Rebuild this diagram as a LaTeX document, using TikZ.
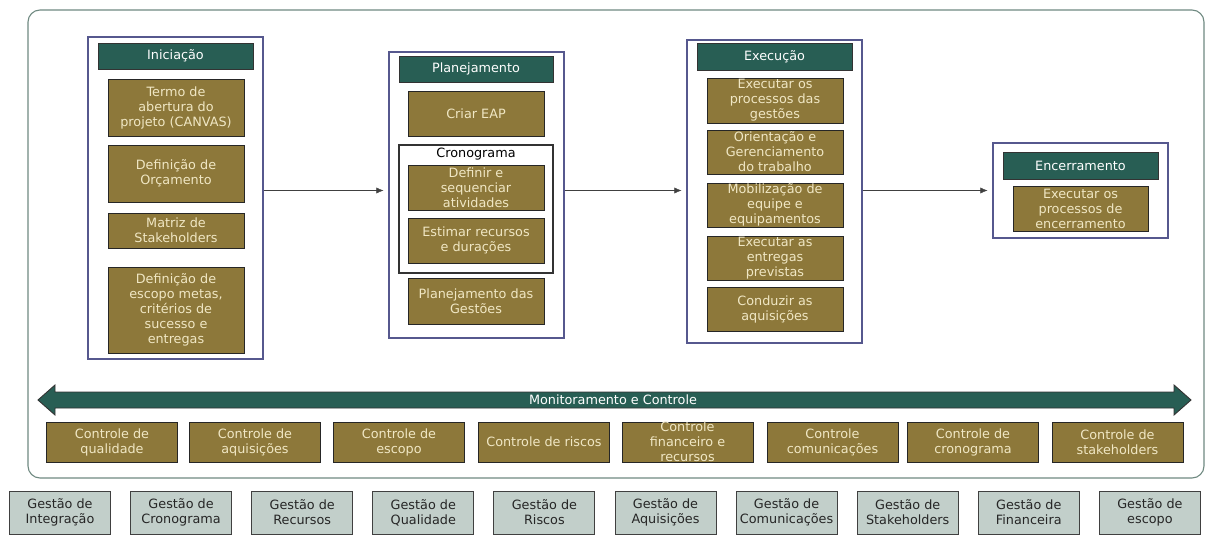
\documentclass[tikz,border=0pt]{standalone}
\usepackage{fontspec}
\setmainfont{DejaVu Sans}
\usetikzlibrary{positioning}
\usetikzlibrary{arrows.meta}

\definecolor{oliva}{RGB}{141,120,58}
\definecolor{creme}{RGB}{240,231,196}
\definecolor{petroleo}{RGB}{40,94,84}
\definecolor{azulmoldura}{RGB}{86,88,142}
\definecolor{cinzaverde}{RGB}{194,207,202}
\definecolor{contorno}{RGB}{112,138,130}

\tikzset{
    texto/.style={font=\fontsize{12.8}{15}\selectfont, align=center, inner sep=0pt},
    fase/.style={draw=azulmoldura, line width=1.1pt, fill=white},
    cabecalho/.style={texto, draw=black!80, fill=petroleo, text=white, minimum width=155pt, minimum height=26pt},
    tarefa/.style={texto, draw=black!85, line width=0.9pt, fill=oliva, text=creme, minimum width=136pt, minimum height=44pt},
    controle/.style={tarefa, minimum width=131pt, minimum height=40pt},
    gestao/.style={texto, draw=black!75, line width=0.9pt, fill=cinzaverde, text=black!85, minimum width=101pt, minimum height=43pt},
    seta/.style={-{Latex[length=7pt, width=6pt]}, black!75, shorten >=5pt},
}

\begin{document}
\begin{tikzpicture}[x=1pt, y=-1pt]
    \useasboundingbox (0,0) rectangle (1219,540);
    \fill[white] (0,0) rectangle (1219,540);
    \draw[contorno, line width=1.1pt, rounded corners=12pt] (28,10) rectangle (1204,478);

    % Iniciacao
    \node[fase, minimum width=175pt, minimum height=322pt] (ini) at (175.5,198) {};
    \node[cabecalho] (iniCab) at (175.5,56) {Iniciação};
    \node[tarefa, minimum height=57pt] (termo) at (176,107.5) {Termo de\\abertura do\\projeto (CANVAS)};
    \node[tarefa, minimum height=57pt] (orcamento) at (176,173.5) {Definição de\\Orçamento};
    \node[tarefa, minimum height=35pt] (matriz) at (176,230.5) {Matriz de\\Stakeholders};
    \node[tarefa, minimum height=86pt] (escopo) at (176,310) {Definição de\\escopo metas,\\critérios de\\sucesso e\\entregas};

    % Planejamento
    \node[fase, minimum width=175pt, minimum height=286pt] (pla) at (476.5,195) {};
    \node[cabecalho, minimum width=154pt] (plaCab) at (476,69) {Planejamento};
    \node[tarefa, minimum height=45pt] (eap) at (476,113.5) {Criar EAP};
    \node[draw=black!80, line width=1.1pt, minimum width=154pt, minimum height=128pt] (crono) at (476,209) {};
    \node[texto, anchor=north] (cronoLbl) at (476,148) {Cronograma};
    \node[tarefa, minimum height=45pt] (definir) at (476,187.5) {Definir e\\sequenciar\\atividades};
    \node[tarefa, minimum height=45pt] (estimar) at (476,240.5) {Estimar recursos\\e durações};
    \node[tarefa, minimum height=46pt] (plaGest) at (476,301) {Planejamento das\\Gestões};

    % Execucao
    \node[fase, minimum width=175pt, minimum height=303pt] (exe) at (774.5,191.5) {};
    \node[cabecalho, minimum height=27pt] (exeCab) at (774.5,56.5) {Execução};
    \node[tarefa, minimum height=45pt] (execProc) at (775,100.5) {Executar os\\processos das\\gestões};
    \node[tarefa] (orient) at (775,152) {Orientação e\\Gerenciamento\\do trabalho};
    \node[tarefa] (mobil) at (775,205) {Mobilização de\\equipe e\\equipamentos};
    \node[tarefa] (entregas) at (775,258) {Executar as\\entregas\\previstas};
    \node[tarefa] (aquis) at (775,309) {Conduzir as\\aquisições};

    % Encerramento
    \node[fase, minimum width=175pt, minimum height=95pt] (enc) at (1080.5,190.5) {};
    \node[cabecalho, minimum height=27pt] (encCab) at (1080.5,165.5) {Encerramento};
    \node[tarefa, minimum width=135pt, minimum height=45pt] (encProc) at (1080.5,208.5) {Executar os\\processos de\\encerramento};

    \draw[seta] (ini.east |- enc.west) -- (pla.west |- enc.west);
    \draw[seta] (pla.east |- enc.west) -- (exe.west |- enc.west);
    \draw[seta] (exe.east |- enc.west) -- (enc.west);

    % Monitoramento e Controle
    \draw[black!80, line width=0.9pt, fill=petroleo] (38,400) -- (55,385) -- (55,392) -- (1174,392) -- (1174,385)
        -- (1191,400) -- (1174,415) -- (1174,408) -- (55,408) -- (55,415) -- cycle;
    \node[texto, text=white] (monit) at (613,400) {Monitoramento e Controle};

    \foreach \cx/\txt [count=\i] in {112/{Controle de\\qualidade}, 255/{Controle de\\aquisições},
        399/{Controle de\\escopo}, 544/{Controle de riscos}, 687.5/{Controle\\financeiro e\\recursos},
        832.5/{Controle\\comunicações}, 973/{Controle de\\cronograma}, 1117.5/{Controle de\\stakeholders}}
        \node[controle] (ctl\i) at (\cx,442) {\txt};

    % Gestoes
    \foreach \txt [count=\i] in {{Gestão de\\Integração}, {Gestão de\\Cronograma}, {Gestão de\\Recursos},
        {Gestão de\\Qualidade}, {Gestão de\\Riscos}, {Gestão de\\Aquisições}, {Gestão de\\Comunicações},
        {Gestão de\\Stakeholders}, {Gestão de\\Financeira}, {Gestão de\\escopo}}
        \node[gestao] (gest\i) at ({60+(\i-1)*121.1},512.5) {\txt};
\end{tikzpicture}
\end{document}
